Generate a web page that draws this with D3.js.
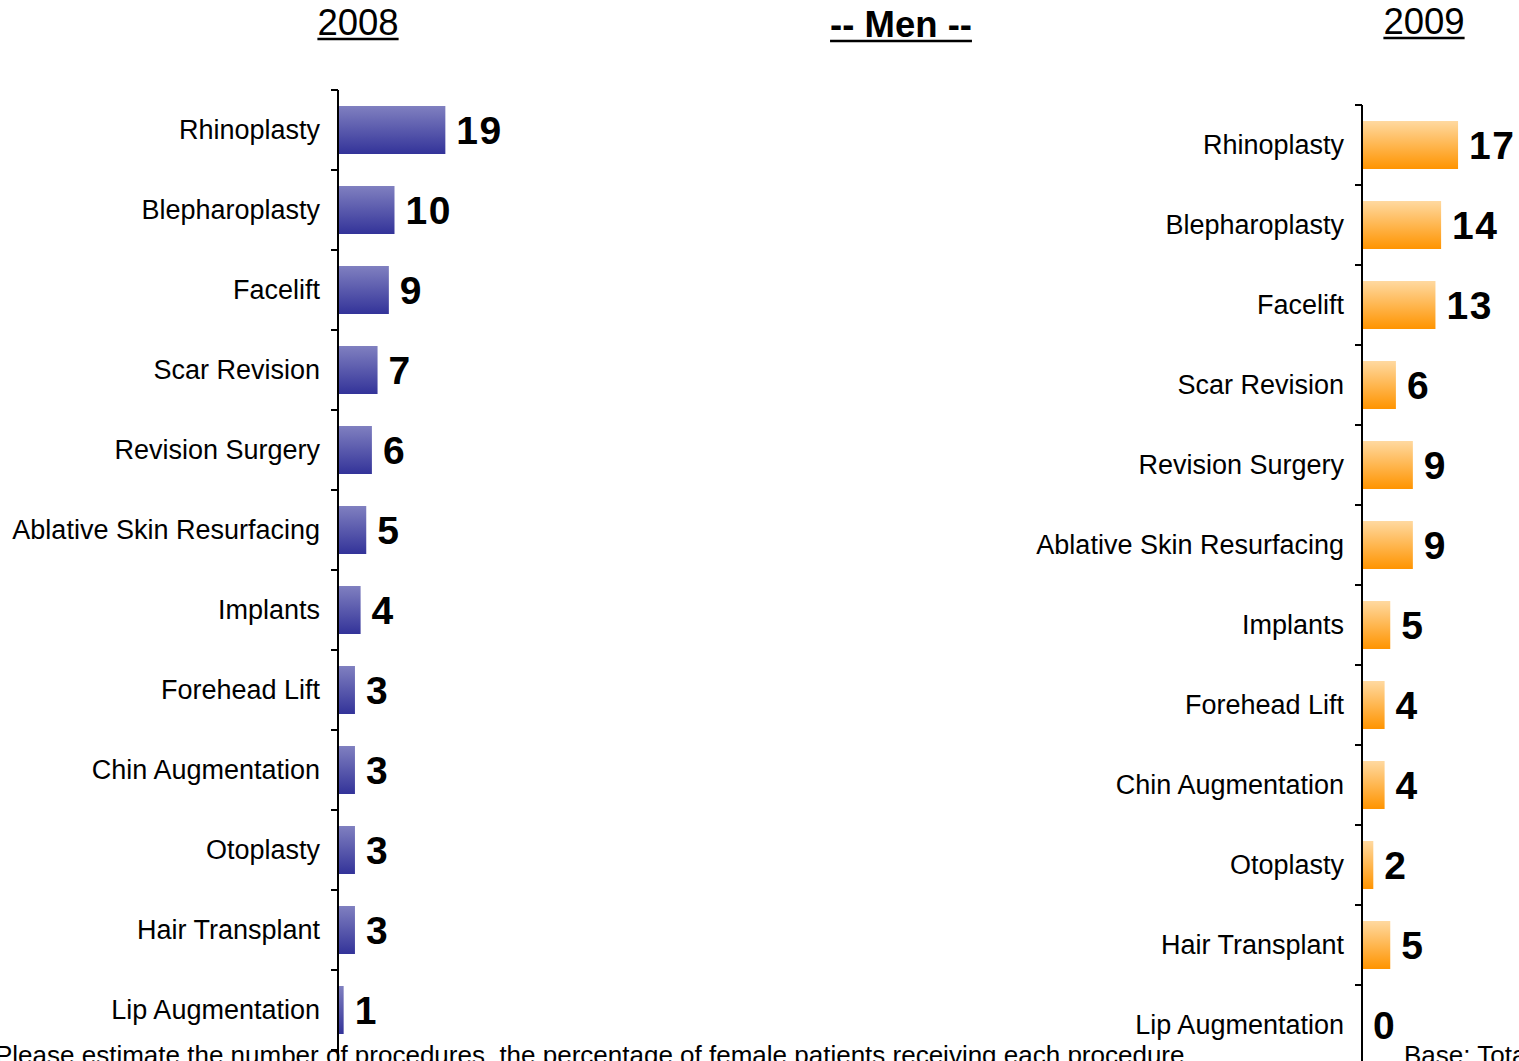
<!DOCTYPE html>
<html>
<head>
<meta charset="utf-8">
<script src="https://cdn.jsdelivr.net/npm/d3@7"></script>
<style>
  body { margin: 0; background: #fff; overflow: hidden; }
  svg { display: block; font-family: "Liberation Sans", Arial, sans-serif; }
  .cat { font-size: 27px; }
  .val { font-size: 39px; font-weight: bold; letter-spacing: 1.5px; }
</style>
</head>
<body>
<svg id="chart" width="1519" height="1061"></svg>
<script>
// procedures, same order in both years
var procedures = ["Rhinoplasty", "Blepharoplasty", "Facelift", "Scar Revision",
  "Revision Surgery", "Ablative Skin Resurfacing", "Implants", "Forehead Lift",
  "Chin Augmentation", "Otoplasty", "Hair Transplant", "Lip Augmentation"];
var values2008 = [19, 10, 9, 7, 6, 5, 4, 3, 3, 3, 3, 1];
var values2009 = [17, 14, 13, 6, 9, 9, 5, 4, 4, 2, 5, 0];

var svg = d3.select("#chart");
var defs = svg.append("defs");

function gradient(id, top, bottom) {
  var g = defs.append("linearGradient").attr("id", id)
      .attr("x1", 0).attr("y1", 0).attr("x2", 0).attr("y2", 1);
  g.append("stop").attr("offset", "0%").attr("stop-color", top);
  g.append("stop").attr("offset", "100%").attr("stop-color", bottom);
}
gradient("purple", "#8080c0", "#333399");
gradient("orange", "#ffd9a0", "#ff9400");

// both panels share the same horizontal scale
var x = d3.scaleLinear().domain([0, 20]).range([0, 113]);

function panel(axisX, top, values, fill) {
  var y = d3.scaleBand().domain(procedures).range([top, top + 80 * procedures.length])
      .paddingInner(0.4).paddingOuter(0.2);
  var g = svg.append("g").attr("transform", "translate(" + axisX + ",0)");

  g.selectAll("rect").data(values).enter().append("rect")
      .attr("x", 0)
      .attr("y", function (d, i) { return y(procedures[i]); })
      .attr("width", function (d) { return x(d); })
      .attr("height", y.bandwidth())
      .attr("fill", "url(#" + fill + ")");

  // axis line and ticks at band boundaries
  g.append("line").attr("x1", 0).attr("x2", 0)
      .attr("y1", top).attr("y2", 1100)
      .attr("stroke", "#000").attr("stroke-width", 2);
  g.selectAll("line.tick").data(d3.range(procedures.length + 1)).enter().append("line")
      .attr("class", "tick")
      .attr("x1", -7).attr("x2", 0)
      .attr("y1", function (d) { return top + 80 * d; })
      .attr("y2", function (d) { return top + 80 * d; })
      .attr("stroke", "#000").attr("stroke-width", 2);

  g.selectAll("text.cat").data(procedures).enter().append("text")
      .attr("class", "cat")
      .attr("x", -18)
      .attr("y", function (d) { return y(d) + y.bandwidth() / 2; })
      .attr("dy", "0.35em")
      .attr("text-anchor", "end")
      .text(function (d) { return d; });

  g.selectAll("text.val").data(values).enter().append("text")
      .attr("class", "val")
      .attr("x", function (d) { return x(d) + 11; })
      .attr("y", function (d, i) { return y(procedures[i]) + y.bandwidth() / 2; })
      .attr("dy", "0.36em")
      .text(function (d) { return d; });
}

panel(338, 90, values2008, "purple");
panel(1362, 105, values2009, "orange");

// titles with underlines
function title(cx, base, label, bold) {
  var t = svg.append("text")
      .attr("x", cx).attr("y", base)
      .attr("text-anchor", "middle")
      .attr("font-size", 36.5)
      .attr("font-weight", bold ? "bold" : "normal")
      .text(label);
  var w = t.node().getComputedTextLength();
  svg.append("line")
      .attr("x1", cx - w / 2).attr("x2", cx + w / 2)
      .attr("y1", base + 4).attr("y2", base + 4)
      .attr("stroke", "#000").attr("stroke-width", 2.5);
}
title(358, 35, "2008", false);
title(901, 37, "-- Men --", true);
title(1424, 34, "2009", false);

svg.append("text")
    .attr("x", -5).attr("y", 1064)
    .attr("font-size", 26)
    .text("Please estimate the number of procedures, the percentage of female patients receiving each procedure");
svg.append("text")
    .attr("x", 1404).attr("y", 1064)
    .attr("font-size", 26)
    .text("Base: Total");
</script>
</body>
</html>
